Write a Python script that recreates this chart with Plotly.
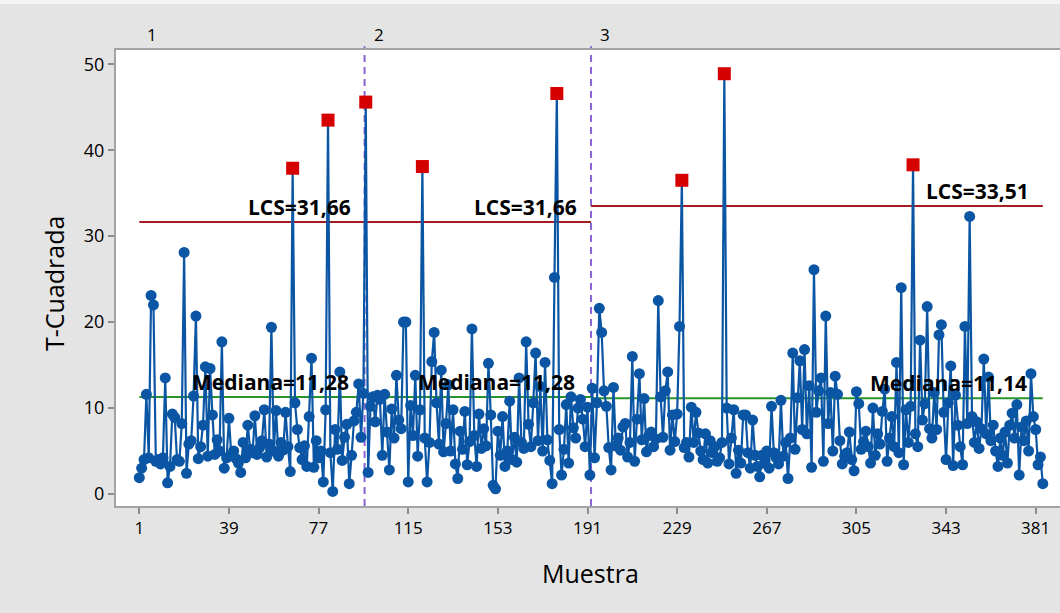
import plotly.graph_objects as go

# T-squared values per stage (consecutive samples)
t2_stage1 = [
    1.9, 3.0, 4.0, 11.6, 4.2, 23.1, 22.0, 3.8, 4.0, 3.5,
    4.2, 13.5, 1.3, 3.2, 9.3, 8.9, 4.0, 3.8, 8.2, 28.1,
    2.4, 5.8, 6.2, 11.4, 20.7, 4.1, 5.5, 8.0, 14.8, 4.4,
    14.6, 9.2, 4.6, 6.3, 5.0, 17.7, 3.0, 4.2, 8.8, 4.5,
    5.0, 4.1, 3.6, 2.5, 6.0, 4.2, 8.0, 5.2, 4.8, 9.1,
    4.6, 5.4, 6.2, 9.8, 4.3, 5.8, 19.4, 5.0, 9.7, 4.4,
    6.0, 5.1, 9.5, 5.5, 2.6, 37.9, 10.6, 7.5, 5.4, 4.0,
    5.6, 3.2, 9.0, 15.8, 3.1, 6.2, 4.2, 5.0, 1.4, 9.8,
    43.5, 4.8, 0.3, 7.5, 5.2, 14.2, 3.9, 6.6, 8.1, 1.2,
    4.5, 8.5, 9.5, 12.8, 6.6, 11.7,
]
t2_stage2 = [
    45.6, 2.5, 10.2, 11.3, 8.4, 11.5, 11.0, 4.5, 11.6, 7.2,
    2.8, 9.9, 6.5, 13.8, 8.6, 7.6, 20.0, 20.0, 1.4, 10.3,
    6.8, 13.8, 4.4, 9.8, 38.1, 6.5, 1.4, 6.0, 15.4, 18.8,
    10.6, 5.8, 14.4, 4.9, 8.2, 12.7, 5.0, 9.8, 3.5, 1.8,
    7.3, 5.2, 9.6, 3.4, 6.1, 19.2, 6.8, 3.2, 9.3, 5.3,
    7.6, 5.6, 15.2, 9.2, 1.0, 0.6, 7.3, 4.5, 9.0, 3.2,
    5.0, 10.8, 4.0, 6.6, 3.7, 13.5, 6.0, 5.3, 17.7, 8.1,
    5.5, 10.6, 16.4, 6.2, 12.5, 5.0, 15.3, 6.3, 3.9, 1.2,
    25.2, 46.6, 7.5, 2.2, 5.2, 10.4, 3.6, 11.3, 7.7, 6.5,
    10.0, 11.0, 8.7, 5.5, 10.1, 2.2,
]
t2_stage3 = [
    12.3, 4.2, 10.6, 21.6, 18.8, 12.0, 10.2, 5.4, 2.8, 12.4,
    5.6, 6.5, 5.1, 7.8, 8.2, 4.3, 6.0, 16.0, 3.8, 8.7,
    14.0, 6.3, 11.1, 4.9, 6.8, 7.2, 5.5, 6.4, 22.5, 11.3,
    6.6, 12.0, 14.2, 5.1, 9.2, 6.1, 9.3, 19.5, 36.5, 5.4,
    6.0, 4.3, 10.1, 6.0, 9.5, 7.1, 5.0, 4.0, 7.0, 3.6,
    6.2, 4.8, 5.5, 3.8, 4.2, 6.0, 48.9, 10.0, 3.5, 6.5,
    9.8, 2.4, 5.1, 3.6, 9.2, 9.2, 4.8, 3.0, 8.6, 4.5,
    3.2, 2.0, 4.5, 3.6, 5.0, 3.0, 10.2, 4.8, 4.2, 3.5,
    10.9, 4.4, 6.0, 1.8, 6.5, 16.4, 5.2, 11.2, 15.5, 7.5,
    16.8, 7.0, 12.6, 3.1, 26.1, 9.5, 12.0, 13.5, 3.8, 20.7,
    8.2, 11.8, 5.0, 13.7, 11.6, 6.2, 3.5, 4.4, 4.8, 7.2,
    4.0, 2.7, 11.9, 10.5, 5.2, 6.1, 7.3, 5.5, 3.6, 10.0,
    4.5, 7.0, 5.8, 9.6, 12.2, 3.8, 6.5, 9.0, 5.5, 15.3,
    4.8, 24.0, 3.4, 9.8, 6.0, 10.2, 38.3, 7.0, 5.5, 17.9,
    8.6, 10.5, 21.8, 7.6, 6.5, 11.8, 7.5, 18.5, 19.7, 9.5,
    4.0, 10.6, 14.9, 3.3, 11.5, 8.0, 5.5, 3.4, 19.5, 8.2,
    32.3, 9.0, 6.0, 8.4, 5.3, 7.6, 15.7, 7.0, 13.6, 6.2,
    8.0, 5.0, 3.2, 6.5, 4.5, 7.2, 3.6, 8.0, 9.4, 6.5,
    10.4, 2.2, 7.8, 6.2, 8.5, 5.0, 14.0, 9.0, 7.5, 3.4,
    4.3, 1.2,
]

stage_names = ["1", "2", "3"]
ucl_values = [31.66, 31.66, 33.51]
median_values = [11.28, 11.28, 11.14]
x_ticks = [1, 39, 77, 115, 153, 191, 229, 267, 305, 343, 381]
y_ticks = [0, 10, 20, 30, 40, 50]

BLUE = "#0B56A4"
RED = "#D50000"
UCL_COLOR = "#A21E22"
MED_COLOR = "#27952B"
STAGE_COLOR = "#8A63D2"
FONT = "Open Sans"

stages = [t2_stage1, t2_stage2, t2_stage3]

samples, values, ucl_per_point = [], [], []
bounds = []
start = 1
for vals, ucl in zip(stages, ucl_values):
    end = start + len(vals) - 1
    bounds.append((start, end))
    samples.extend(range(start, end + 1))
    values.extend(vals)
    ucl_per_point.extend([ucl] * len(vals))
    start = end + 1

in_x = [s for s, v, u in zip(samples, values, ucl_per_point) if v <= u]
in_y = [v for v, u in zip(values, ucl_per_point) if v <= u]
out_x = [s for s, v, u in zip(samples, values, ucl_per_point) if v > u]
out_y = [v for v, u in zip(values, ucl_per_point) if v > u]

fig = go.Figure()

annotations = []
shapes = []
n_stages = len(bounds)
for i, ((s0, s1), ucl, med, name) in enumerate(zip(bounds, ucl_values, median_values, stage_names)):
    left = s0 if i == 0 else s0 - 0.5
    right = s1 if i == n_stages - 1 else s1 + 0.5
    fig.add_trace(go.Scatter(x=[left, right], y=[ucl, ucl], mode="lines",
                             line=dict(color=UCL_COLOR, width=2), hoverinfo="skip"))
    fig.add_trace(go.Scatter(x=[left, right], y=[med, med], mode="lines",
                             line=dict(color=MED_COLOR, width=2), hoverinfo="skip"))
    lbl_right = s1 + 0.5 if i < n_stages - 1 else s1
    annotations.append(dict(
        x=lbl_right, y=ucl, xref="x", yref="y", xanchor="right", yanchor="middle",
        xshift=-12, yshift=15, showarrow=False,
        text="<b>LCS=" + f"{ucl:.2f}".replace(".", ",") + "</b>",
        font=dict(family=FONT, size=21, color="black")))
    annotations.append(dict(
        x=lbl_right, y=med, xref="x", yref="y", xanchor="right", yanchor="middle",
        xshift=-14, yshift=15, showarrow=False,
        text="<b>Mediana=" + f"{med:.2f}".replace(".", ",") + "</b>",
        font=dict(family=FONT, size=21, color="black")))
    annotations.append(dict(
        x=s0 + 5.5, y=1.034, xref="x", yref="paper", xanchor="center", yanchor="middle",
        showarrow=False, text=name, font=dict(family=FONT, size=17, color="black")))
    if i > 0:
        shapes.append(dict(type="line", xref="x", yref="paper", x0=s0 - 0.5, x1=s0 - 0.5,
                           y0=0, y1=1.008, layer="below",
                           line=dict(color=STAGE_COLOR, width=2, dash="7px,5px")))

fig.add_trace(go.Scatter(x=samples, y=values, mode="lines",
                         line=dict(color=BLUE, width=2.2), hoverinfo="skip"))
fig.add_trace(go.Scatter(x=in_x, y=in_y, mode="markers",
                         marker=dict(color=BLUE, size=11, symbol="circle", line=dict(width=0))))
fig.add_trace(go.Scatter(x=out_x, y=out_y, mode="markers",
                         marker=dict(color=RED, size=13, symbol="square", line=dict(width=0))))

# axis titles
annotations.append(dict(x=-0.0657, y=0.489, xref="paper", yref="paper", textangle=-90,
                        showarrow=False, text="T-Cuadrada", xanchor="center", yanchor="middle",
                        font=dict(family=FONT, size=25, color="black")))
annotations.append(dict(x=0.503, y=-0.147, xref="paper", yref="paper",
                        showarrow=False, text="Muestra", xanchor="center", yanchor="middle",
                        font=dict(family=FONT, size=25, color="black")))

# window strip along the top edge
shapes.append(dict(type="rect", xref="paper", yref="paper", x0=-0.2, x1=1.1,
                   y0=1.0 + 46 / 456, y1=1.2, fillcolor="#F3F3F3", line=dict(width=0),
                   layer="below"))

fig.update_layout(
    width=1060, height=613, autosize=False,
    margin=dict(l=116, r=0, t=50, b=107),
    paper_bgcolor="#E4E4E4", plot_bgcolor="white",
    showlegend=False,
    annotations=annotations, shapes=shapes,
    xaxis=dict(range=[-8.88, 391.3], tickmode="array", tickvals=x_ticks,
               ticks="outside", ticklen=6, tickwidth=1.5, tickcolor="#8C8C8C",
               showgrid=False, zeroline=False, showline=True, mirror=True,
               linecolor="#A3A3A3", linewidth=2,
               tickfont=dict(family=FONT, size=17, color="black")),
    yaxis=dict(range=[-1.40, 51.66], tickmode="array", tickvals=y_ticks,
               ticks="outside", ticklen=6, tickwidth=1.5, tickcolor="#8C8C8C",
               showgrid=False, zeroline=False, showline=True, mirror=False,
               linecolor="#A3A3A3", linewidth=2,
               tickfont=dict(family=FONT, size=18, color="black")),
)

fig.write_html("out.html")
